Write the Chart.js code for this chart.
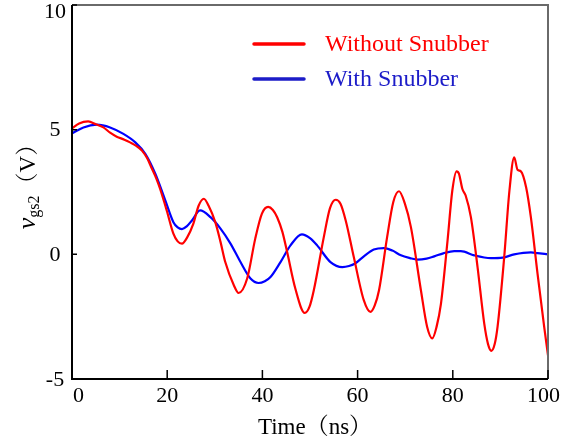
<!DOCTYPE html>
<html><head><meta charset="utf-8">
<script src="https://cdn.jsdelivr.net/npm/chart.js@4/dist/chart.umd.min.js"></script>
<style>html,body{margin:0;padding:0;background:#fff}#wrap{width:569px;height:444px}</style>
</head><body><div id="wrap"><canvas id="c" width="569" height="444"></canvas></div>
<script>
// ---- data ----
const redT=[0,1.5,3.4,5,6.6,8,9.4,11,12.2,13.5,14.7,15.8,16.8,17.7,18.5,19.9,21.3,22.2,23.1,24.2,25.5,26.6,27.7,28.7,30.1,31.2,32.2,34,35,36.8,38.5,39.9,41.2,42.2,43.1,44.2,45.2,46.9,48.9,49.9,50.8,52.9,54.2,55.4,56.4,57.5,59.2,61.3,62.7,63.6,64.5,66.2,67.5,68.7,69.9,71.2,73.3,74.6,75.7,76.6,77.5,78.9,79.9,80.8,81.3,82,82.7,83.8,85.2,86.6,87.4,88.1,88.8,89.4,90.8,91.9,92.9,93.6,94.3,95.4,96.4,97.8,99.2,100];
const redV=[5.05,5.25,5.33,5.22,5.09,4.88,4.72,4.6,4.49,4.35,4.16,3.85,3.43,3.05,2.63,1.76,0.83,0.52,0.43,0.68,1.23,1.95,2.23,1.95,1.29,0.5,-0.31,-1.24,-1.55,-0.97,0.63,1.63,1.9,1.78,1.49,0.9,0.09,-1.36,-2.35,-2.1,-1.44,0.69,1.85,2.19,2.03,1.36,-0.11,-1.84,-2.31,-2.05,-1.44,0.69,2.1,2.53,2.05,1.09,-1.44,-2.9,-3.37,-2.9,-2.0,0.56,2.56,3.33,3.23,2.63,2.36,1.49,-0.51,-2.77,-3.6,-3.87,-3.6,-2.91,-0.11,2.56,3.89,3.39,3.33,2.69,1.49,-0.77,-2.91,-4.05];
const blueT=[0,2.4,5.2,8,10.8,13.3,15.4,17.5,19.6,21.3,22.2,23.1,24.1,25.2,26.9,29.1,31.2,33.3,35.4,37.5,39.2,40.5,41.7,43.8,45.9,48.3,50,51.5,54.3,56.8,58.2,59.4,61.5,63.4,65.5,67.3,69.1,71,72.6,74.5,76.1,78,80.3,81.7,84.5,88,90.5,92.9,96.4,97.8,100];
const blueV=[4.85,5.09,5.2,5.09,4.83,4.49,4.03,3.23,2.16,1.29,1.08,1.01,1.12,1.36,1.76,1.49,1.03,0.43,-0.31,-0.97,-1.15,-1.08,-0.91,-0.31,0.36,0.8,0.65,0.36,-0.31,-0.51,-0.47,-0.38,-0.05,0.19,0.25,0.15,-0.04,-0.15,-0.21,-0.17,-0.08,0.04,0.13,0.13,-0.04,-0.15,-0.13,0,0.08,0.05,0];
const seriesNames=['Without Snubber','With Snubber'];
const xTickVals=[0,20,40,60,80,100];
const yTickVals=[-5,0,5,10];
const xTitle='Time（ns）';
const yTitleParts=['v','gs2','（V）'];

const zip=(t,v)=>t.map((x,i)=>({x:x,y:v[i]}));
const SERIF='"Liberation Serif","Noto Serif CJK SC","Noto Sans CJK SC",serif';

const deco={id:'deco',afterDraw(chart){
  const {ctx,chartArea:a,scales:{x,y}}=chart;
  ctx.save();
  // frame
  ctx.lineWidth=2;
  ctx.strokeStyle='#6a6a6a';
  ctx.beginPath();ctx.moveTo(a.left,a.top);ctx.lineTo(a.right,a.top);ctx.lineTo(a.right,a.bottom);ctx.stroke();
  ctx.strokeStyle='#000';
  ctx.beginPath();ctx.moveTo(a.left,a.top);ctx.lineTo(a.left,a.bottom);ctx.lineTo(a.right,a.bottom);ctx.stroke();
  // ticks
  ctx.lineWidth=1.5;
  ctx.beginPath();
  xTickVals.forEach(v=>{const p=x.getPixelForValue(v);ctx.moveTo(p,a.bottom);ctx.lineTo(p,a.bottom-9);});
  yTickVals.forEach(v=>{const p=y.getPixelForValue(v);ctx.moveTo(a.left,p);ctx.lineTo(a.left+5,p);});
  ctx.stroke();
  // tick labels
  ctx.fillStyle='#000';
  ctx.font='22px '+SERIF;
  ctx.textBaseline='middle';
  ctx.textAlign='center';
  xTickVals.forEach(v=>{
    const s=String(v);const w=ctx.measureText(s).width;
    let p=x.getPixelForValue(v);
    p=Math.max(p,a.left+1+w/2);p=Math.min(p,chart.width-9-w/2);
    ctx.fillText(s,p,a.bottom+17);
  });
  yTickVals.forEach(v=>{
    let p=y.getPixelForValue(v)+1;
    p=Math.max(p,a.top+7);
    ctx.fillText(String(v),55,p);
  });
  // x title
  ctx.font='23px '+SERIF;
  ctx.fillText(xTitle,315,428);
  // y title
  ctx.save();
  ctx.translate(35,181);
  ctx.rotate(-Math.PI/2);
  ctx.textAlign='left';ctx.textBaseline='alphabetic';
  const f1='italic 26px '+SERIF,f2='16px '+SERIF,f3='23px '+SERIF;
  ctx.font=f1;const w1=ctx.measureText(yTitleParts[0]).width;
  ctx.font=f2;const w2=ctx.measureText(yTitleParts[1]).width;
  ctx.font=f3;const w3=ctx.measureText(yTitleParts[2]).width;
  let cx=-(w1+w2+w3)/2;
  ctx.font=f1;ctx.fillText(yTitleParts[0],cx,0);cx+=w1;
  ctx.font=f2;ctx.fillText(yTitleParts[1],cx,4);cx+=w2;
  ctx.font=f3;ctx.fillText(yTitleParts[2],cx,0);
  ctx.restore();
  // legend
  const legY=[44,79];
  const legCol=['#ff0000','#1c1cc8'];
  chart.data.datasets.forEach((ds,i)=>{
    ctx.strokeStyle=legCol[i];ctx.lineWidth=3.5;ctx.lineCap='round';
    ctx.beginPath();ctx.moveTo(254,legY[i]);ctx.lineTo(304,legY[i]);ctx.stroke();
    ctx.fillStyle=legCol[i];ctx.font='24px '+SERIF;ctx.textAlign='left';ctx.textBaseline='middle';
    ctx.fillText(ds.label,325,legY[i]+1);
  });
  ctx.restore();
}};

new Chart(document.getElementById('c'),{
  type:'line',
  data:{datasets:[
    {label:seriesNames[0],data:zip(redT,redV),borderColor:'#ff0000',borderWidth:2.2,pointRadius:0,cubicInterpolationMode:'monotone',fill:false},
    {label:seriesNames[1],data:zip(blueT,blueV),borderColor:'#0000ff',borderWidth:2.2,pointRadius:0,cubicInterpolationMode:'monotone',fill:false}
  ]},
  options:{
    responsive:false,animation:false,devicePixelRatio:1,
    layout:{padding:{top:5,right:21,left:0,bottom:0}},
    plugins:{legend:{display:false},tooltip:{enabled:false}},
    scales:{
      x:{type:'linear',min:0,max:100,ticks:{display:false,stepSize:20},grid:{display:false},border:{display:false},
         afterFit(s){s.height=65;s.paddingLeft=0;s.paddingRight=0;s.paddingTop=0;s.paddingBottom=0;}},
      y:{type:'linear',min:-5,max:10,ticks:{display:false,stepSize:5},grid:{display:false},border:{display:false},
         afterFit(s){s.width=72;s.paddingLeft=0;s.paddingRight=0;s.paddingTop=0;s.paddingBottom=0;}}
    }
  },
  plugins:[deco]
});
</script></body></html>
